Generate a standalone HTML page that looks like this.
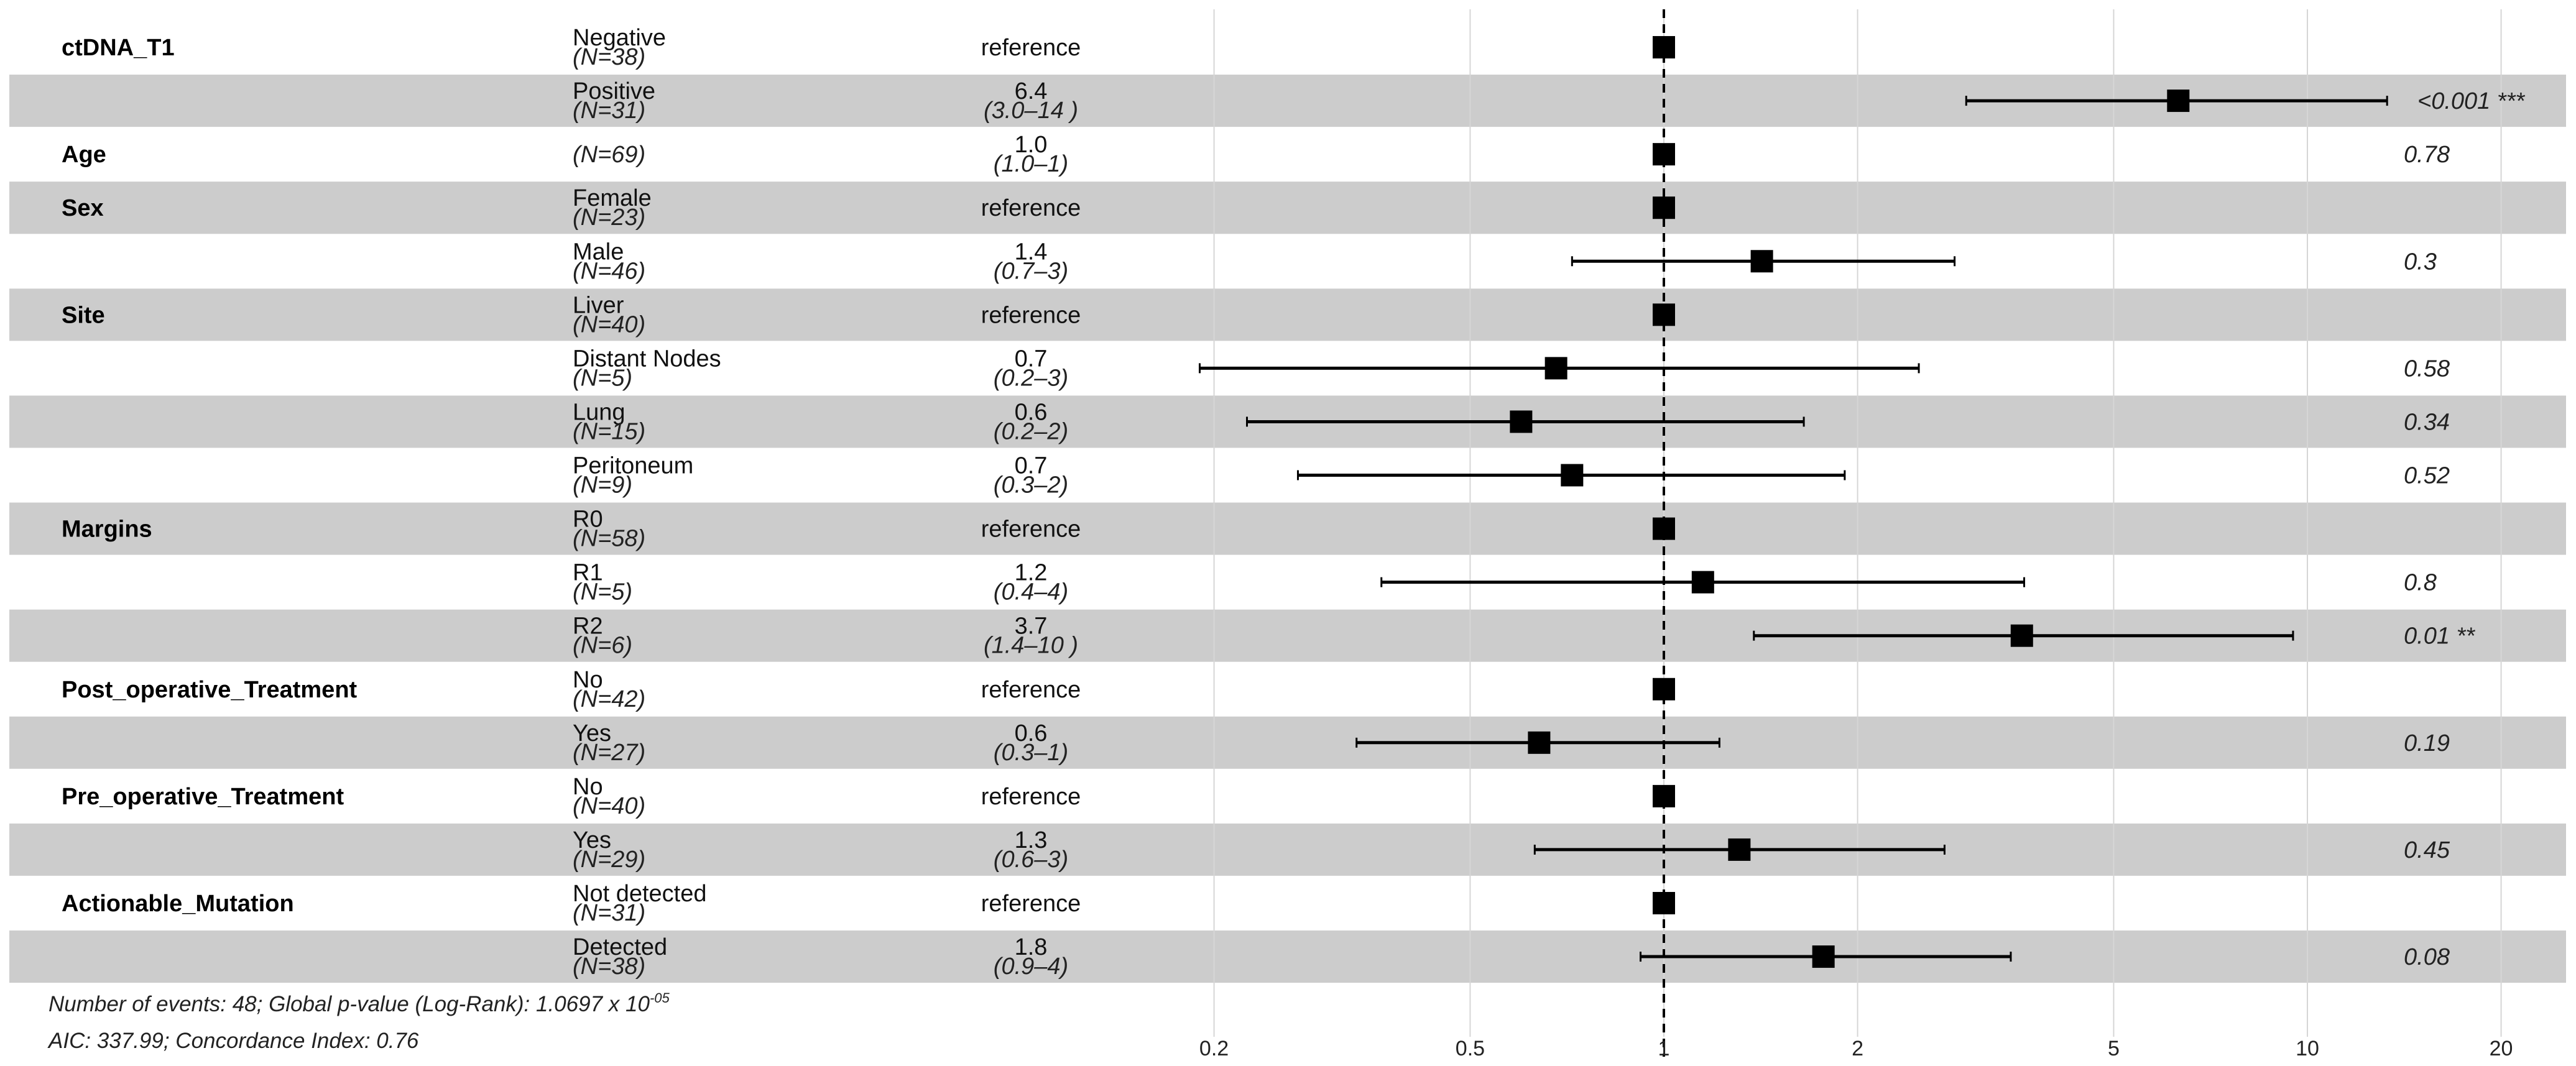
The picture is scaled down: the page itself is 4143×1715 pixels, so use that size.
<!DOCTYPE html>
<html><head><meta charset="utf-8"><style>
html,body{margin:0;padding:0;background:#fff}
svg{display:block;font-family:"Liberation Sans",Arial,sans-serif}
</style></head><body>
<svg id="chart" width="4143" height="1715" viewBox="0 0 4143 1715" xmlns="http://www.w3.org/2000/svg">
<g id="bands"></g><g id="grid"></g><g id="labels"></g><g id="marks"></g><g id="axis"></g>
<text x="78" y="1627" font-size="35" font-style="italic" fill="#222">Number of events: 48; Global p-value (Log-Rank): 1.0697 x 10<tspan dy="-14" font-size="22">-05</tspan></text>
<text x="78" y="1686" font-size="35" font-style="italic" fill="#222">AIC: 337.99; Concordance Index: 0.76</text>
</svg>
<script>
const variables = ["ctDNA_T1","","Age","Sex","","Site","","","","Margins","","","Post_operative_Treatment","","Pre_operative_Treatment","","Actionable_Mutation",""];
const levels = ["Negative","Positive","","Female","Male","Liver","Distant Nodes","Lung","Peritoneum","R0","R1","R2","No","Yes","No","Yes","Not detected","Detected"];
const nCounts = [38,31,69,23,46,40,5,15,9,58,5,6,42,27,40,29,31,38];
const estLabels = ["reference","6.4","1.0","reference","1.4","reference","0.7","0.6","0.7","reference","1.2","3.7","reference","0.6","reference","1.3","reference","1.8"];
const ciLabels = ["","(3.0–14 )","(1.0–1)","","(0.7–3)","","(0.2–3)","(0.2–2)","(0.3–2)","","(0.4–4)","(1.4–10 )","","(0.3–1)","","(0.6–3)","","(0.9–4)"];
const hr = [1,6.3,1.0,1,1.42,1,0.68,0.60,0.72,1,1.15,3.6,1,0.64,1,1.31,1,1.77];
const ciLow = [1,2.95,0.99,1,0.72,1,0.19,0.225,0.27,1,0.364,1.38,1,0.333,1,0.63,1,0.92];
const ciHigh = [1,13.3,1.01,1,2.83,1,2.49,1.65,1.91,1,3.63,9.5,1,1.22,1,2.73,1,3.46];
const pLabels = ["","<0.001 ***","0.78","","0.3","","0.58","0.34","0.52","","0.8","0.01 **","","0.19","","0.45","","0.08"];
const ticks = [0.2,0.5,1,2,5,10,20];
const tickLabels = ["0.2","0.5","1","2","5","10","20"];

const NS="http://www.w3.org/2000/svg";
const xScale = v => 2676 + 1035*Math.log10(v);
const ROW_TOP=33, ROW_H=86.06;
const rowCenter = i => ROW_TOP + i*ROW_H + ROW_H/2;
function mk(tag, attrs, parent, txt){const e=document.createElementNS(NS,tag);for(const k in attrs)e.setAttribute(k,attrs[k]);if(txt!==undefined)e.textContent=txt;parent.appendChild(e);return e;}
const gB=document.getElementById('bands'),gG=document.getElementById('grid'),gL=document.getElementById('labels'),gM=document.getElementById('marks'),gA=document.getElementById('axis');

levels.forEach((lv,i)=>{
  if(i%2===1){
    const r=mk('rect',{x:15,y:ROW_TOP+i*ROW_H+1,width:4112,height:ROW_H-2,fill:'#cccccc'},gB);
    
    
  }
});
ticks.forEach((t,k)=>{
  const x=xScale(t);
  const l=mk('line',{x1:x,y1:15,x2:x,y2:1668,stroke:'#d6d6d6','stroke-width':2},gG);
  
  
  const tx=mk('text',{x:x,y:1698,'font-size':34,'text-anchor':'middle',fill:'#222'},gA,tickLabels[k]);
  
  
});
const ref=mk('line',{x1:xScale(1),y1:15,x2:xScale(1),y2:1700,stroke:'#000','stroke-width':4,'stroke-dasharray':'14,10'},gG);



levels.forEach((lv,i)=>{
  const c=rowCenter(i);
  if(variables[i]){
    const t=mk('text',{x:99,y:c+13,'font-size':38,'font-weight':'bold',fill:'#000'},gL,variables[i]);
    
    
  }
  const nTxt='(N='+nCounts[i]+')';
  if(lv){
    const a=mk('text',{x:921,y:c-3,'font-size':38,fill:'#111'},gL,lv);
    
    
    const b=mk('text',{x:921,y:c+28,'font-size':38,'font-style':'italic',fill:'#222'},gL,nTxt);
    
    
  } else {
    const b=mk('text',{x:921,y:c+13,'font-size':38,'font-style':'italic',fill:'#222'},gL,nTxt);
    
    
  }
  if(ciLabels[i]){
    const a=mk('text',{x:1658,y:c-3,'font-size':38,'text-anchor':'middle',fill:'#111'},gL,estLabels[i]);
    
    
    const b=mk('text',{x:1658,y:c+28,'font-size':38,'font-style':'italic','text-anchor':'middle',fill:'#222'},gL,ciLabels[i]);
    
    
  } else {
    const a=mk('text',{x:1658,y:c+13,'font-size':38,'text-anchor':'middle',fill:'#111'},gL,estLabels[i]);
    
    
  }
  if(pLabels[i]){
    const px = pLabels[i].startsWith('<') ? 3888 : 3866;
    const p=mk('text',{x:px,y:c+13,'font-size':38,'font-style':'italic',fill:'#222'},gL,pLabels[i]);
    
    
  }
  // marks
  const x0=xScale(ciLow[i]),x1=xScale(ciHigh[i]);
  if(ciHigh[i]/ciLow[i]>1.05){
    const l=mk('line',{x1:x0,y1:c,x2:x1,y2:c,stroke:'#000','stroke-width':5},gM);
    
    
    [x0,x1].forEach(xx=>{
      const cap=mk('line',{x1:xx,y1:c-8,x2:xx,y2:c+8,stroke:'#000','stroke-width':3},gM);
      
      
    });
  }
  const sq=mk('rect',{x:xScale(hr[i])-18,y:c-18,width:36,height:36,fill:'#000'},gM);
  
  
});
</script>
</body></html>
